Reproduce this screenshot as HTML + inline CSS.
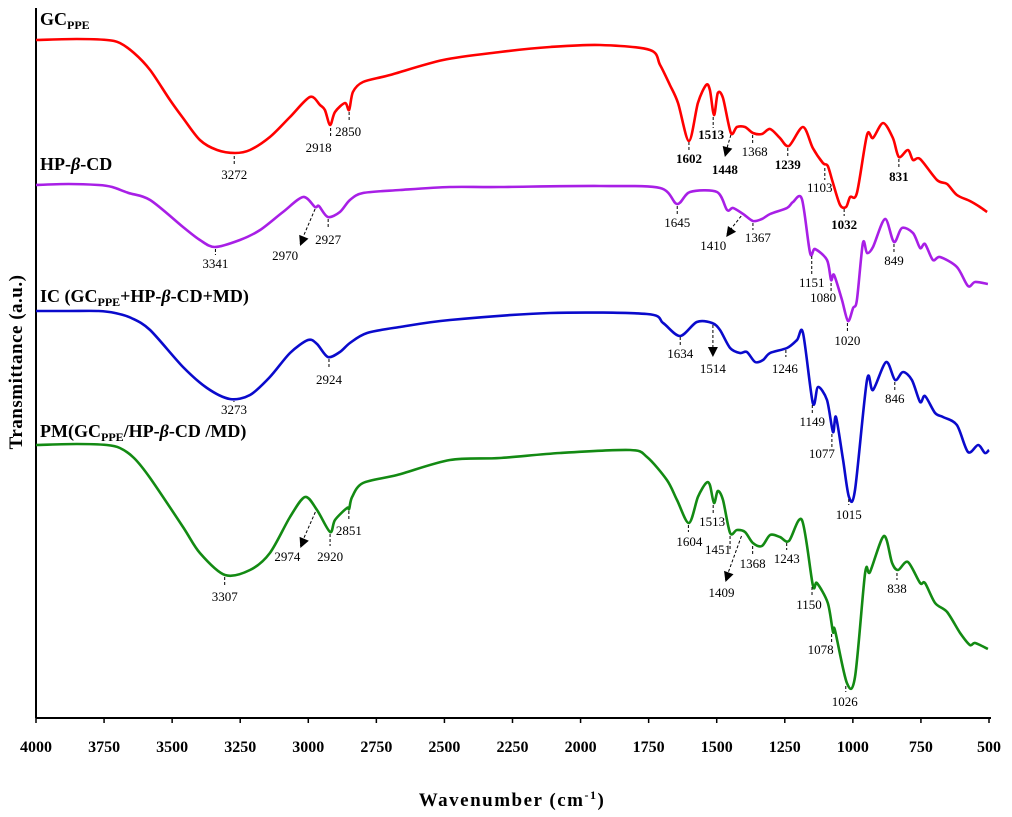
<!DOCTYPE html>
<html><head><meta charset="utf-8"><style>
body{margin:0;background:#fff;}
svg{display:block;font-family:"Liberation Serif",serif;}
</style></head><body>
<svg id="chart" width="1012" height="817" viewBox="0 0 1012 817" xmlns="http://www.w3.org/2000/svg">
<g id="axes"></g>
<g id="curves"></g>
<g id="annots"></g>
<text x="40" y="25" font-size="18" font-weight="bold">GC<tspan font-size="12" dy="4">PPE</tspan></text>
<text x="40" y="170" font-size="18" font-weight="bold">HP-<tspan font-style="italic">β</tspan>-CD</text>
<text x="40" y="302" font-size="18" font-weight="bold">IC (GC<tspan font-size="12" dy="4">PPE</tspan><tspan dy="-4">+HP-</tspan><tspan font-style="italic">β</tspan>-CD+MD)</text>
<text x="40" y="437" font-size="18" font-weight="bold">PM(GC<tspan font-size="12" dy="4">PPE</tspan><tspan dy="-4">/HP-</tspan><tspan font-style="italic">β</tspan>-CD /MD)</text>
<text x="512" y="806" font-size="19" font-weight="bold" text-anchor="middle" letter-spacing="1.5">Wavenumber (cm<tspan font-size="12" dy="-7">-1</tspan><tspan dy="7">)</tspan></text>
<text transform="translate(22,362) rotate(-90)" font-size="19" font-weight="bold" text-anchor="middle" letter-spacing="0.5">Transmittance (a.u.)</text>
</svg>
<script>
const xTicks=[4000,3750,3500,3250,3000,2750,2500,2250,2000,1750,1500,1250,1000,750,500];
const gcppe=[[4000,678],[3850,679],[3740,678],[3692,675],[3640,665],[3581,648],[3508,618],[3460,600],[3398,578],[3335,568],[3269,565],[3214,568],[3141,581],[3067,601],[2994,621],[2957,613],[2939,608],[2920,593],[2902,606],[2865,615],[2850,608],[2836,626],[2799,636],[2700,643],[2505,658],[2296,666],[2112,671],[1929,673],[1745,668],[1708,653],[1672,633],[1642,615],[1602,577],[1569,615],[1539,633],[1525,628],[1510,603],[1496,625],[1477,620],[1448,585],[1426,591],[1396,591],[1367,585],[1334,584],[1304,589],[1268,580],[1235,572],[1183,591],[1147,570],[1110,555],[1092,552],[1073,535],[1047,513],[1025,511],[1010,521],[985,525],[948,583],[926,580],[889,595],[853,580],[831,561],[798,568],[779,558],[753,559],[691,538],[654,534],[618,523],[570,517],[533,511],[507,506]];
const hpbcd=[[4000,533],[3880,534],[3770,533],[3720,531],[3660,525],[3581,518],[3460,491],[3398,478],[3343,471],[3251,478],[3177,488],[3093,506],[3019,521],[2975,511],[2961,512],[2928,501],[2884,506],[2847,518],[2799,525],[2663,528],[2480,531],[2296,531],[1929,532],[1708,530],[1646,514],[1598,526],[1499,526],[1462,508],[1440,510],[1403,504],[1367,497],[1334,499],[1304,504],[1242,510],[1220,516],[1187,519],[1157,465],[1139,469],[1095,458],[1080,438],[1069,443],[1040,418],[1018,397],[999,410],[985,418],[963,475],[948,465],[926,471],[882,499],[849,476],[820,490],[779,485],[753,470],[735,474],[706,458],[680,461],[618,451],[577,432],[551,436],[504,434]];
const ic=[[4000,407],[3880,407],[3770,407],[3710,405],[3650,400],[3581,388],[3460,351],[3372,330],[3288,319],[3214,323],[3141,341],[3067,365],[3001,378],[2968,374],[2928,361],[2884,366],[2847,375],[2784,385],[2663,391],[2480,398],[2112,405],[1756,404],[1697,395],[1635,382],[1573,396],[1517,395],[1488,388],[1451,370],[1415,365],[1389,366],[1359,356],[1330,358],[1304,365],[1242,370],[1205,378],[1183,385],[1147,315],[1128,331],[1095,318],[1073,286],[1062,301],[1036,258],[1014,221],[992,228],[948,338],[926,328],[878,356],[845,338],[816,346],[783,338],[753,316],[735,322],[698,305],[669,301],[618,293],[577,266],[540,273],[515,265],[500,268]];
const pm=[[4000,273],[3850,274],[3740,273],[3692,270],[3640,260],[3581,240],[3460,191],[3398,165],[3306,143],[3214,148],[3141,165],[3067,201],[3012,221],[2968,208],[2920,186],[2902,198],[2858,210],[2850,209],[2839,221],[2799,235],[2674,243],[2480,258],[2296,260],[2076,265],[1818,268],[1756,261],[1683,238],[1646,218],[1602,195],[1569,221],[1539,235],[1525,233],[1510,215],[1496,227],[1477,218],[1451,185],[1426,188],[1396,186],[1367,175],[1334,172],[1304,183],[1268,181],[1235,177],[1187,198],[1147,133],[1132,135],[1092,115],[1073,86],[1066,88],[1022,35],[992,41],[955,145],[937,146],[886,182],[856,155],[834,148],[798,156],[753,135],[735,135],[698,115],[654,106],[606,85],[570,73],[551,75],[504,69]];
const seriesColors=["#ff0000","#a81fe6","#0a0acc","#138a13"];
// annotations: [text, wavenumber, dashTopPx, dashBottomPx, textCenterX offset, textY, bold, arrowEnd dx,dy]
const annotations=[
["3272",3272,156,165,0,179,0],["2918",2918,128,138,-12,152,0],["2850",2850,112,122,-1,136,0],["1602",1602,142,152,0,163,1],["1513",1513,117,128,-2,139,1],["1448",1448,135,160,-6,174,1,-6,22],["1368",1368,135,143,2,156,0],["1239",1239,148,156,0,169,1],["1103",1103,168,180,-5,192,0],["1032",1032,209,216,0,229,1],["831",831,159,167,0,181,1],
["3341",3341,249,255,0,268,0],["2970",2975,209,246,-30,260,0,-15,37],["2927",2927,219,229,0,244,0],["1645",1645,206,215,0,227,0],["1410",1410,216,238,-28,250,0,-15,21],["1367",1367,223,230,5,242,0],["1151",1151,256,275,0,287,0],["1080",1080,283,292,-8,302,0],["1020",1020,323,333,0,345,0],["849",849,244,252,0,265,0],
["3273",3273,401,402,0,414,0],["2924",2924,359,368,0,384,0],["1634",1634,337,345,0,358,0],["1514",1514,325,357,0,373,0,0,32],["1246",1246,350,357,-1,373,0],["1149",1149,405,413,0,426,0],["1077",1077,434,448,-10,458,0],["1015",1015,499,505,0,519,0],["846",846,382,392,0,403,0],
["3307",3307,577,586,0,601,0],["2974",2974,512,548,-28,561,0,-15,36],["2920",2920,534,546,0,561,0],["2851",2851,511,520,0,535,0],["1604",1604,525,532,1,546,0],["1513",1513,505,515,-1,526,0],["1451",1451,536,550,-12,554,0],["1409",1409,536,582,-20,597,0,-16,46],["1368",1368,546,555,0,568,0],["1243",1243,543,550,0,563,0],["1150",1150,587,597,-3,609,0],["1078",1078,634,642,-11,654,0],["1026",1026,686,692,-1,706,0],["838",838,573,580,0,593,0]
];
const NS="http://www.w3.org/2000/svg";
const X0=36,X1=989,YB=718,YT=10;
function xs(w){return X0+(4000-w)/3500*(X1-X0);}
function ys(v){return YB-v/708*(YB-YT);}
function mk(tag,attrs,parent){const e=document.createElementNS(NS,tag);for(const k in attrs)e.setAttribute(k,attrs[k]);parent.appendChild(e);return e;}
function smooth(pts){
  let d='M'+pts[0][0].toFixed(1)+' '+pts[0][1].toFixed(1);
  for(let i=0;i<pts.length-1;i++){
    const p0=pts[Math.max(0,i-1)],p1=pts[i],p2=pts[i+1],p3=pts[Math.min(pts.length-1,i+2)];
    const k=1/6*0.9;
    const c1x=p1[0]+(p2[0]-p0[0])*k,c1y=p1[1]+(p2[1]-p0[1])*k;
    const c2x=p2[0]-(p3[0]-p1[0])*k,c2y=p2[1]-(p3[1]-p1[1])*k;
    d+=' C'+c1x.toFixed(1)+' '+c1y.toFixed(1)+' '+c2x.toFixed(1)+' '+c2y.toFixed(1)+' '+p2[0].toFixed(1)+' '+p2[1].toFixed(1);
  }
  return d;
}
const axes=document.getElementById('axes');
let l=mk('line',{x1:X0,y1:8,x2:X0,y2:YB,stroke:'#000','stroke-width':2},axes);


l=mk('line',{x1:X0,y1:YB,x2:991,y2:YB,stroke:'#000','stroke-width':2},axes);


xTicks.forEach(t=>{
  const tk=mk('line',{x1:xs(t),y1:YB,x2:xs(t),y2:YB+5,stroke:'#000','stroke-width':1.5},axes);
  
  
  const tx=mk('text',{x:xs(t),y:752,'text-anchor':'middle','font-size':16,'font-weight':'bold'},axes);
  tx.textContent=t;
  
  
});
const curves=document.getElementById('curves');
const names=['spectrum-gcppe','spectrum-hpbcd','spectrum-ic','spectrum-pm'];
[gcppe,hpbcd,ic,pm].forEach((s,i)=>{
  const pts=s.map(p=>[xs(p[0]),ys(p[1])]);
  const p=mk('path',{d:smooth(pts),fill:'none',stroke:seriesColors[i],'stroke-width':2.6,'stroke-linejoin':'round'},curves);
  
  
});
const an=document.getElementById('annots');
annotations.forEach(a=>{
  const x=xs(a[1]);
  if(a.length>7){
    const ex=x+a[7],ey=a[2]+a[8];
    const ln=mk('line',{x1:x,y1:a[2],x2:ex,y2:ey-2,stroke:'#000','stroke-width':1,'stroke-dasharray':'3,2'},an);
    
    
    const ang=Math.atan2(a[8],a[7]);const L=10,W=5;
    const bx=ex-L*Math.cos(ang),by=ey-L*Math.sin(ang);
    const px=-Math.sin(ang)*W,py=Math.cos(ang)*W;
    const hd=mk('polygon',{points:`${ex},${ey} ${bx+px},${by+py} ${bx-px},${by-py}`,fill:'#000'},an);
    
    
  } else {
    const ln=mk('line',{x1:x,y1:a[2],x2:x,y2:a[3],stroke:'#000','stroke-width':1,'stroke-dasharray':'3,2'},an);
    
    
  }
  const t=mk('text',{x:x+a[4],y:a[5],'text-anchor':'middle','font-size':13,'font-weight':a[6]?'bold':'normal'},an);
  t.textContent=a[0];
  
  
});
</script>
</body></html>
